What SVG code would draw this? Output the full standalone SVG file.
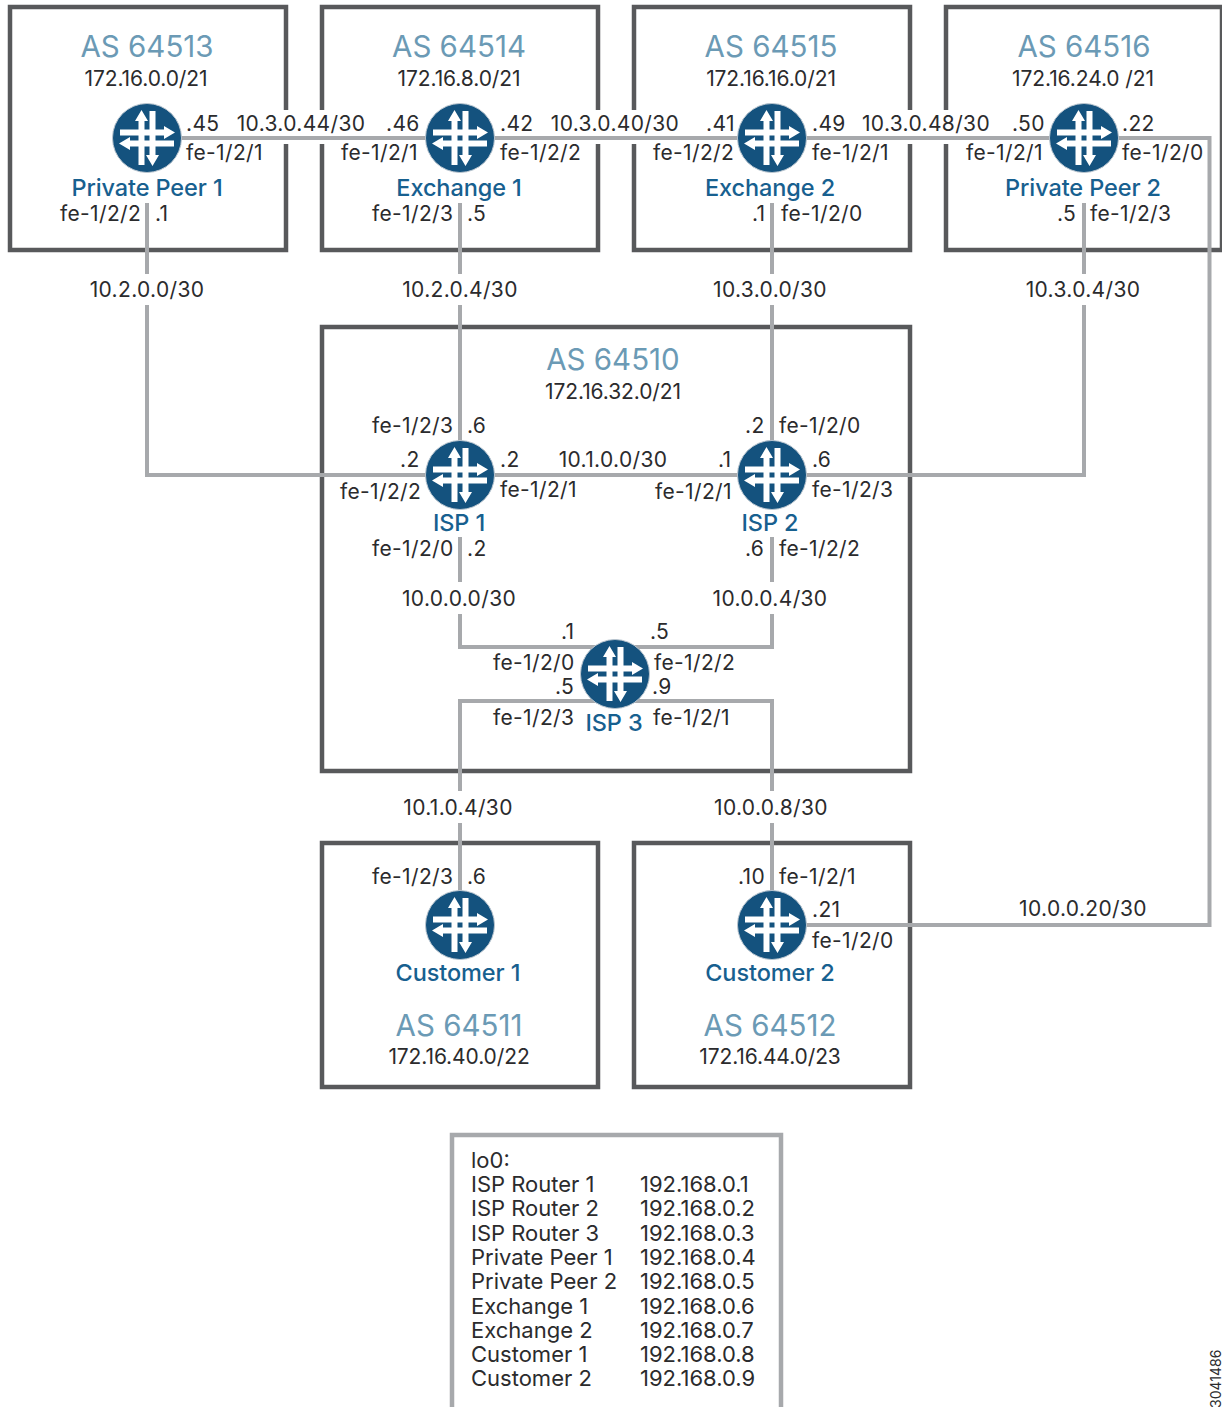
<svg xmlns="http://www.w3.org/2000/svg" xmlns:xlink="http://www.w3.org/1999/xlink" width="1222" height="1407" viewBox="0 0 1222 1407">
<style>
text{font-family:"Inter","Noto Sans","Liberation Sans",sans-serif;font-size:21px;fill:#2b2b2d;letter-spacing:.35px}
.m{text-anchor:middle}
.p{letter-spacing:-.1px}
.as{font-size:29.500px;fill:#6b9ab5;text-anchor:middle;letter-spacing:0}
.name{font-size:23.500px;font-weight:500;fill:#17608f;text-anchor:middle;letter-spacing:-.1px}
.box{fill:none;stroke:#58595b;stroke-width:4.5}
.lo{fill:none;stroke:#a7a9ac;stroke-width:4.5}
.link{fill:none;stroke:#a7a9ac;stroke-width:4}
.lo0 text{font-size:22px;letter-spacing:0}
</style>
<defs>
<g id="router">
<circle r="34.5" fill="#14527e" stroke="#b9c5cf" stroke-width="1"/>
<path fill="#fff" d="M-8.500-17H-12L-5.500-28 1-17H-2.500V27H-8.500ZM2.500-27H8.500V17H12L5.500 28 -1 17H2.500ZM-27-8.500H17V-12L28-5.500 17 1V-2.500H-27ZM27 2.500V8.500H-17V12L-28 5.500 -17-1V2.500Z"/>
</g>
</defs>
<rect width="1222" height="1407" fill="#fff"/>
<g id="as-boxes">
<rect class="box" x="10" y="7" width="276" height="243"/>
<rect class="box" x="322" y="7" width="276" height="243"/>
<rect class="box" x="634" y="7" width="276" height="243"/>
<rect class="box" x="946" y="7" width="276" height="243"/>
<rect class="box" x="322" y="327" width="588" height="444"/>
<rect class="box" x="322" y="843" width="276" height="244"/>
<rect class="box" x="634" y="843" width="276" height="244"/>
<rect x="282" y="110" width="44" height="34" fill="#fff"/>
<rect x="594" y="110" width="44" height="34" fill="#fff"/>
<rect x="906" y="110" width="44" height="34" fill="#fff"/>
</g>
<g id="connectors">
<path class="link" d="M147 138H1209.500V925H772"/>
<path class="link" d="M147 203V274M147 305V475H772"/>
<path class="link" d="M460 203V274M460 305V475"/>
<path class="link" d="M772 203V274M772 305V475"/>
<path class="link" d="M1084 203V274M1084 305V475H772"/>
<path class="link" d="M460 537V582M460 614V647H772V614M772 582V537"/>
<path class="link" d="M460 791V701H772V791M460 823V925M772 823V925"/>
<text x="301" y="131" class="m">10.3.0.44/30</text>
<text x="615" y="131" class="m">10.3.0.40/30</text>
<text x="926" y="131" class="m">10.3.0.48/30</text>
<text x="147" y="297" class="m">10.2.0.0/30</text>
<text x="460" y="297" class="m">10.2.0.4/30</text>
<text x="770" y="297" class="m">10.3.0.0/30</text>
<text x="1083" y="297" class="m">10.3.0.4/30</text>
<text x="613" y="467" class="m">10.1.0.0/30</text>
<text x="459" y="606" class="m">10.0.0.0/30</text>
<text x="770" y="606" class="m">10.0.0.4/30</text>
<text x="458" y="815" class="m">10.1.0.4/30</text>
<text x="771" y="815" class="m">10.0.0.8/30</text>
<text x="1083" y="916" class="m">10.0.0.20/30</text>
</g>
<g id="private-peer-1">
<use xlink:href="#router" href="#router" x="147" y="138"/>
<text class="as" x="147" y="57">AS 64513</text>
<text class="m p" x="146" y="86">172.16.0.0/21</text>
<text x="186" y="131">.45</text>
<text x="186" y="160">fe-1/2/1</text>
<text class="name" x="147" y="196">Private Peer 1</text>
<text x="60" y="221">fe-1/2/2</text>
<text x="155" y="221">.1</text>
</g>
<g id="exchange-1">
<use xlink:href="#router" href="#router" x="460" y="138"/>
<text class="as" x="459" y="57">AS 64514</text>
<text class="m p" x="459" y="86">172.16.8.0/21</text>
<text x="386" y="131">.46</text>
<text x="341" y="160">fe-1/2/1</text>
<text x="500" y="131">.42</text>
<text x="500" y="160">fe-1/2/2</text>
<text class="name" x="459" y="196">Exchange 1</text>
<text x="372" y="221">fe-1/2/3</text>
<text x="467" y="221">.5</text>
</g>
<g id="exchange-2">
<use xlink:href="#router" href="#router" x="772" y="138"/>
<text class="as" x="771" y="57">AS 64515</text>
<text class="m p" x="771" y="86">172.16.16.0/21</text>
<text x="706" y="131">.41</text>
<text x="653" y="160">fe-1/2/2</text>
<text x="812" y="131">.49</text>
<text x="812" y="160">fe-1/2/1</text>
<text class="name" x="770" y="196">Exchange 2</text>
<text x="752" y="221">.1</text>
<text x="781" y="221">fe-1/2/0</text>
</g>
<g id="private-peer-2">
<use xlink:href="#router" href="#router" x="1084" y="138"/>
<text class="as" x="1084" y="57">AS 64516</text>
<text class="m p" x="1083" y="86">172.16.24.0 /21</text>
<text x="1012" y="131">.50</text>
<text x="966" y="160">fe-1/2/1</text>
<text x="1122" y="131">.22</text>
<text x="1122" y="160">fe-1/2/0</text>
<text class="name" x="1083" y="196">Private Peer 2</text>
<text x="1057" y="221">.5</text>
<text x="1090" y="221">fe-1/2/3</text>
</g>
<g id="as-64510-label">
<text class="as" x="613" y="370">AS 64510</text>
<text class="m p" x="613" y="399">172.16.32.0/21</text>
</g>
<g id="isp-1">
<use xlink:href="#router" href="#router" x="460" y="475"/>
<text x="372" y="433">fe-1/2/3</text>
<text x="467" y="433">.6</text>
<text x="400" y="467">.2</text>
<text x="500" y="467">.2</text>
<text x="340" y="499">fe-1/2/2</text>
<text x="500" y="497">fe-1/2/1</text>
<text class="name" x="459" y="531">ISP 1</text>
<text x="372" y="556">fe-1/2/0</text>
<text x="467" y="556">.2</text>
</g>
<g id="isp-2">
<use xlink:href="#router" href="#router" x="772" y="475"/>
<text x="745" y="433">.2</text>
<text x="779" y="433">fe-1/2/0</text>
<text x="718" y="467">.1</text>
<text x="812" y="467">.6</text>
<text x="655" y="499">fe-1/2/1</text>
<text x="812" y="497">fe-1/2/3</text>
<text class="name" x="770" y="531">ISP 2</text>
<text x="745" y="556">.6</text>
<text x="779" y="556">fe-1/2/2</text>
</g>
<g id="isp-3">
<use xlink:href="#router" href="#router" x="615" y="674"/>
<text x="561" y="639">.1</text>
<text x="650" y="639">.5</text>
<text x="493" y="670">fe-1/2/0</text>
<text x="654" y="670">fe-1/2/2</text>
<text x="555" y="694">.5</text>
<text x="652" y="694">.9</text>
<text x="493" y="725">fe-1/2/3</text>
<text x="653" y="725">fe-1/2/1</text>
<text class="name" x="614" y="731">ISP 3</text>
</g>
<g id="customer-1">
<use xlink:href="#router" href="#router" x="460" y="925"/>
<text x="372" y="884">fe-1/2/3</text>
<text x="467" y="884">.6</text>
<text class="name" x="458" y="981">Customer 1</text>
<text class="as" x="459" y="1036">AS 64511</text>
<text class="m p" x="459" y="1064">172.16.40.0/22</text>
</g>
<g id="customer-2">
<use xlink:href="#router" href="#router" x="772" y="925"/>
<text x="738" y="884">.10</text>
<text x="779" y="884">fe-1/2/1</text>
<text x="812" y="917">.21</text>
<text x="812" y="948">fe-1/2/0</text>
<text class="name" x="770" y="981">Customer 2</text>
<text class="as" x="770" y="1036">AS 64512</text>
<text class="m p" x="770" y="1064">172.16.44.0/23</text>
</g>
<g id="lo0-table" class="lo0">
<rect class="lo" x="452" y="1135" width="329" height="290"/>
<text x="471" y="1168">lo0:</text>
<text x="471" y="1192">ISP Router 1</text><text x="640" y="1192">192.168.0.1</text>
<text x="471" y="1216">ISP Router 2</text><text x="640" y="1216">192.168.0.2</text>
<text x="471" y="1241">ISP Router 3</text><text x="640" y="1241">192.168.0.3</text>
<text x="471" y="1265">Private Peer 1</text><text x="640" y="1265">192.168.0.4</text>
<text x="471" y="1289">Private Peer 2</text><text x="640" y="1289">192.168.0.5</text>
<text x="471" y="1314">Exchange 1</text><text x="640" y="1314">192.168.0.6</text>
<text x="471" y="1338">Exchange 2</text><text x="640" y="1338">192.168.0.7</text>
<text x="471" y="1362">Customer 1</text><text x="640" y="1362">192.168.0.8</text>
<text x="471" y="1386">Customer 2</text><text x="640" y="1386">192.168.0.9</text>
</g>
<text transform="translate(1221 1408) rotate(-90)" style="font-size:14px;letter-spacing:0">3041486</text>
</svg>
